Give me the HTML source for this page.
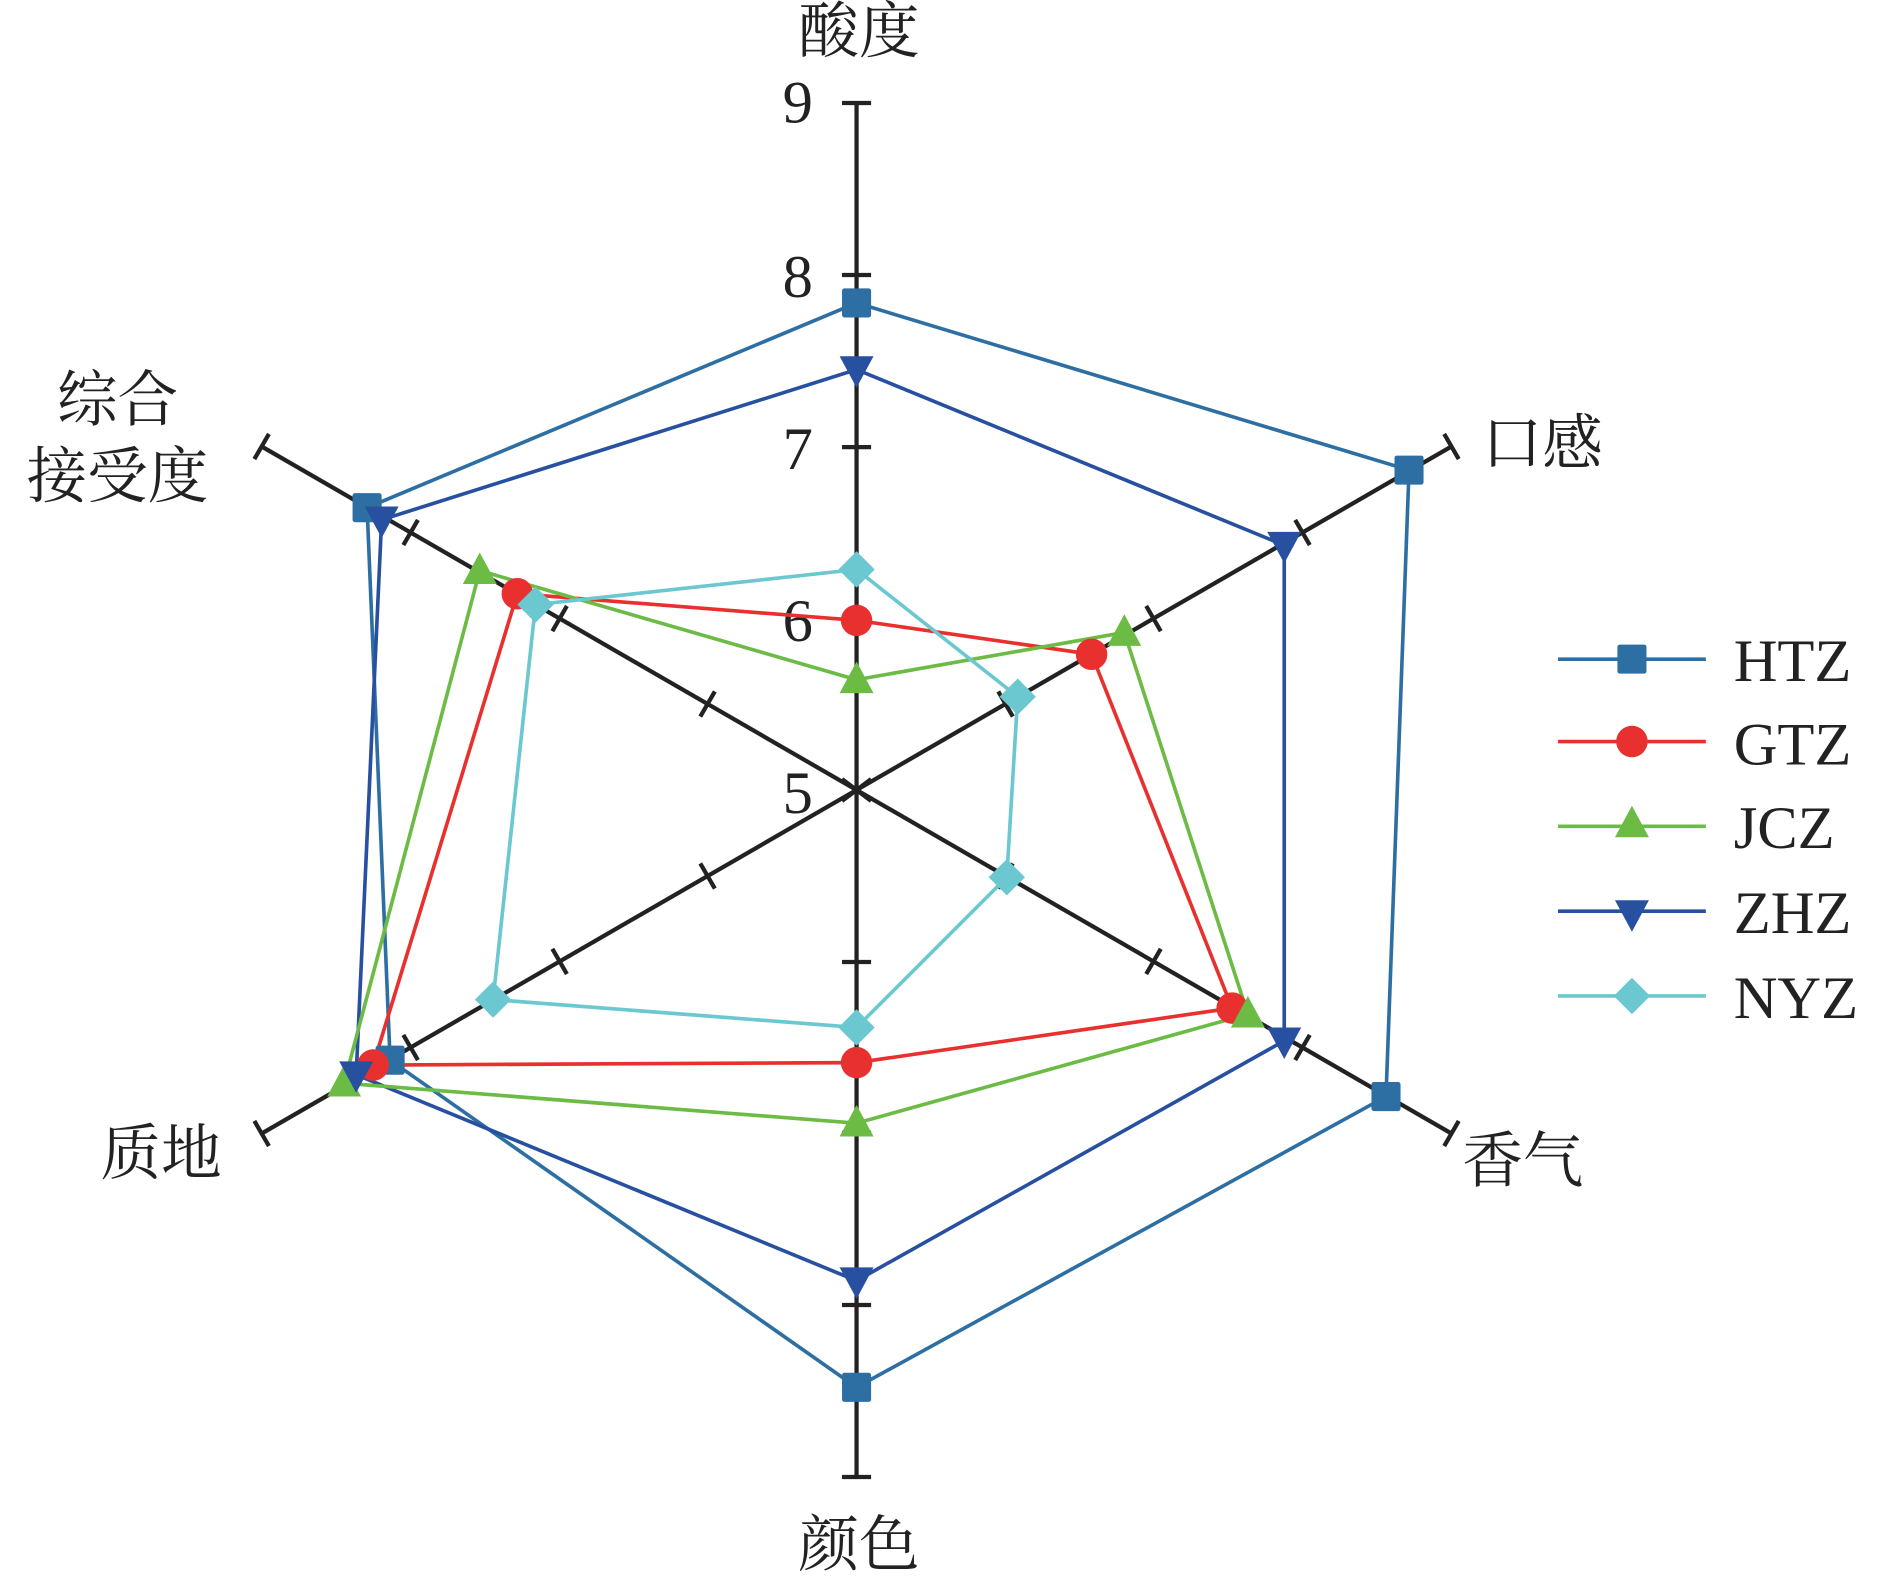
<!DOCTYPE html>
<html><head><meta charset="utf-8"><style>
html,body{margin:0;padding:0;background:#fff;}
svg{display:block}
text{font-family:"Liberation Serif","Noto Serif CJK SC",serif;fill:#222}
</style></head><body>
<svg width="1890" height="1580" viewBox="0 0 1560 1304" preserveAspectRatio="none" xmlns="http://www.w3.org/2000/svg">
<defs>
<g id="sq"><rect x="-12" y="-12" width="24" height="24" rx="2"/></g>
<g id="ci"><circle r="13"/></g>
<g id="tu"><path d="M0,-15 L14,11 L-14,11Z"/></g>
<g id="td"><path d="M0,15 L14,-11 L-14,-11Z"/></g>
<g id="di"><path d="M0,-15 L15,0 L0,15 L-15,0Z"/></g>
</defs>
<g transform="translate(-3,-3)">
<g stroke="#222" stroke-width="3.5" fill="none">
<line x1="710" y1="88" x2="710" y2="1222"/>
<line x1="219" y1="371.5" x2="1201" y2="938.5"/>
<line x1="219" y1="938.5" x2="1201" y2="371.5"/>
<g id="ticks">
<line x1="698" y1="88" x2="722" y2="88"/>
<line x1="698" y1="230" x2="722" y2="230"/>
<line x1="698" y1="372" x2="722" y2="372"/>
<line x1="698" y1="513" x2="722" y2="513"/>
</g>
<use href="#ticks" transform="rotate(60 710 655)"/>
<use href="#ticks" transform="rotate(120 710 655)"/>
<use href="#ticks" transform="rotate(180 710 655)"/>
<use href="#ticks" transform="rotate(240 710 655)"/>
<use href="#ticks" transform="rotate(300 710 655)"/>
<line x1="698" y1="646" x2="722" y2="664"/><line x1="698" y1="664" x2="722" y2="646"/>
</g>
<g font-size="50">
<text x="674" y="104" text-anchor="end">9</text>
<text x="674" y="248" text-anchor="end">8</text>
<text x="674" y="390" text-anchor="end">7</text>
<text x="674" y="532" text-anchor="end">6</text>
<text x="674" y="674" text-anchor="end">5</text>
</g>
<g font-size="50">
<text x="712" y="46" text-anchor="middle">酸度</text>
<text x="1226" y="386">口感</text>
<text x="1210" y="978">香气</text>
<text x="712" y="1295" text-anchor="middle">颜色</text>
<text x="86" y="972">质地</text>
<text x="100" y="350" text-anchor="middle">综合</text>
<text x="100" y="413" text-anchor="middle">接受度</text>
</g>
<g fill="none" stroke-width="3">
<polygon stroke="#2e6fa3" points="710,253 1166,391 1147,908 710,1148 325,878 306,422"/>
<polygon stroke="#2850a0" points="710,308 1063,453 1063,862 710,1060 297,890 318,432"/>
<polygon stroke="#e8312f" points="710,515 904,543 1020,835 710,880 311,882 430,493"/>
<polygon stroke="#6cbb45" points="710,564 931,525 1033,840 710,930 287,897 399,474"/>
<polygon stroke="#6cc8d0" points="710,473 843,578 834,727 710,851 410,828 445,502"/>
</g>
<g fill="#2e6fa3"><use href="#sq" x="710" y="253"/><use href="#sq" x="1166" y="391"/><use href="#sq" x="1147" y="908"/><use href="#sq" x="710" y="1148"/><use href="#sq" x="325" y="878"/><use href="#sq" x="306" y="422"/></g>
<g fill="#e8312f"><use href="#ci" x="710" y="515"/><use href="#ci" x="904" y="543"/><use href="#ci" x="1020" y="835"/><use href="#ci" x="710" y="880"/><use href="#ci" x="311" y="882"/><use href="#ci" x="430" y="493"/></g>
<g fill="#6cbb45"><use href="#tu" x="710" y="564"/><use href="#tu" x="931" y="525"/><use href="#tu" x="1033" y="840"/><use href="#tu" x="710" y="930"/><use href="#tu" x="287" y="897"/><use href="#tu" x="399" y="474"/></g>
<g fill="#2850a0"><use href="#td" x="710" y="308"/><use href="#td" x="1063" y="453"/><use href="#td" x="1063" y="862"/><use href="#td" x="710" y="1060"/><use href="#td" x="297" y="890"/><use href="#td" x="318" y="432"/></g>
<g fill="#6cc8d0"><use href="#di" x="710" y="473"/><use href="#di" x="843" y="578"/><use href="#di" x="834" y="727"/><use href="#di" x="710" y="851"/><use href="#di" x="410" y="828"/><use href="#di" x="445" y="502"/></g>
<g stroke-width="3">
<line x1="1289" y1="547" x2="1411" y2="547" stroke="#2e6fa3"/>
<line x1="1289" y1="615" x2="1411" y2="615" stroke="#e8312f"/>
<line x1="1289" y1="685" x2="1411" y2="685" stroke="#6cbb45"/>
<line x1="1289" y1="755" x2="1411" y2="755" stroke="#2850a0"/>
<line x1="1289" y1="825" x2="1411" y2="825" stroke="#6cc8d0"/>
</g>
<use href="#sq" x="1350" y="547" fill="#2e6fa3"/>
<use href="#ci" x="1350" y="615" fill="#e8312f"/>
<use href="#tu" x="1350" y="683" fill="#6cbb45"/>
<use href="#td" x="1350" y="757" fill="#2850a0"/>
<use href="#di" x="1350" y="825" fill="#6cc8d0"/>
<g font-size="50">
<text x="1434" y="565">HTZ</text>
<text x="1434" y="634">GTZ</text>
<text x="1434" y="703">JCZ</text>
<text x="1434" y="773">ZHZ</text>
<text x="1434" y="843">NYZ</text>
</g>
</g>
</svg>
</body></html>
